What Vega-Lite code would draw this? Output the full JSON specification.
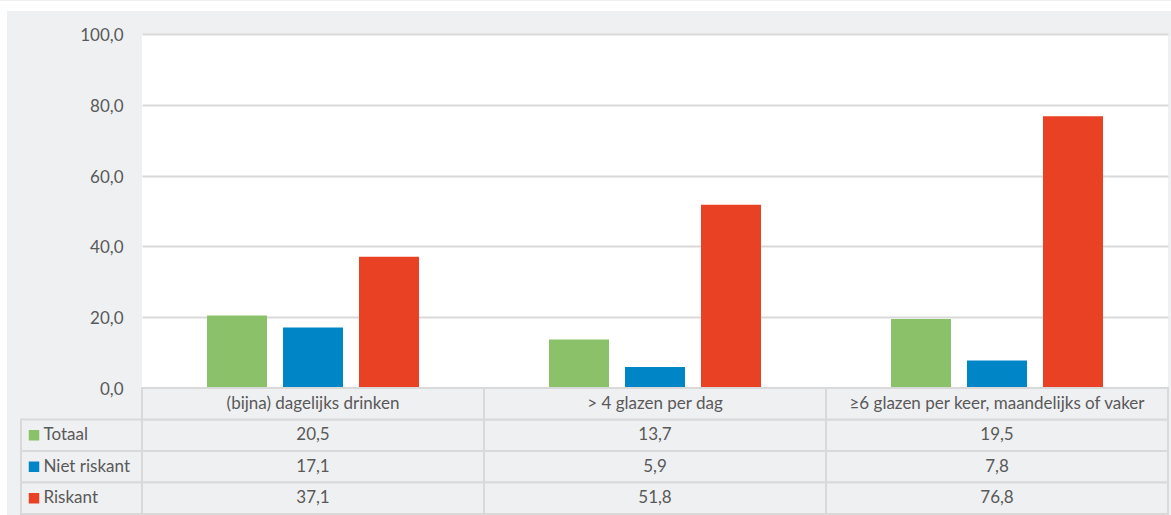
{
  "$schema": "https://vega.github.io/schema/vega-lite/v6.json",
  "background": "#eff0f2",
  "padding": 0,
  "autosize": {"type": "pad"},
  "datasets": {
    "cijfers": [
      {"categorie": "(bijna) dagelijks drinken", "groep": "Totaal", "waarde": 20.5},
      {"categorie": "(bijna) dagelijks drinken", "groep": "Niet riskant", "waarde": 17.1},
      {"categorie": "(bijna) dagelijks drinken", "groep": "Riskant", "waarde": 37.1},
      {"categorie": "> 4 glazen per dag", "groep": "Totaal", "waarde": 13.7},
      {"categorie": "> 4 glazen per dag", "groep": "Niet riskant", "waarde": 5.9},
      {"categorie": "> 4 glazen per dag", "groep": "Riskant", "waarde": 51.8},
      {"categorie": "≥6 glazen per keer, maandelijks of vaker", "groep": "Totaal", "waarde": 19.5},
      {"categorie": "≥6 glazen per keer, maandelijks of vaker", "groep": "Niet riskant", "waarde": 7.8},
      {"categorie": "≥6 glazen per keer, maandelijks of vaker", "groep": "Riskant", "waarde": 76.8}
    ]
  },
  "columns": 3,
  "spacing": 0,
  "bounds": "flush",
  "resolve": {"scale": {"x": "independent", "y": "independent", "color": "independent"}},
  "concat": [
    {"width": 7, "height": 10, "view": {"fill": "white", "stroke": null}, "data": {"values": [{}]}, "mark": {"type": "text", "text": ""}, "encoding": {}},
    {"width": 135, "height": 10, "view": {"fill": "white", "stroke": null}, "data": {"values": [{}]}, "mark": {"type": "text", "text": ""}, "encoding": {}},
    {"width": 1029, "height": 10, "view": {"fill": "white", "stroke": null}, "data": {"values": [{}]}, "mark": {"type": "text", "text": ""}, "encoding": {}},

    {"width": 7, "height": 23, "view": {"fill": "white", "stroke": null}, "data": {"values": [{}]}, "mark": {"type": "text", "text": ""}, "encoding": {}},
    {"width": 135, "height": 23, "data": {"values": [{}]}, "mark": {"type": "text", "text": ""}, "encoding": {}},
    {"width": 1026, "height": 23, "data": {"values": [{}]}, "mark": {"type": "text", "text": ""}, "encoding": {}},

    {"width": 7, "height": 354, "view": {"fill": "white", "stroke": null}, "data": {"values": [{}]}, "mark": {"type": "text", "text": ""}, "encoding": {}},
    {"width": 135, "height": 354, "data": {"values": [{}]}, "mark": {"type": "text", "text": ""}, "encoding": {}},
    {
      "width": 1026,
      "height": 354,
      "view": {"fill": "white", "stroke": null},
      "data": {"name": "cijfers"},
      "mark": {"type": "bar"},
      "encoding": {
        "x": {
          "field": "categorie",
          "type": "nominal",
          "sort": ["(bijna) dagelijks drinken", "> 4 glazen per dag", "≥6 glazen per keer, maandelijks of vaker"],
          "scale": {"paddingInner": 0, "paddingOuter": 0},
          "axis": null
        },
        "xOffset": {
          "field": "groep",
          "type": "nominal",
          "sort": ["Totaal", "Niet riskant", "Riskant"],
          "scale": {"paddingInner": 0.2105, "paddingOuter": 0.855}
        },
        "y": {
          "field": "waarde",
          "type": "quantitative",
          "scale": {"domain": [0, 100], "nice": false},
          "axis": {
            "title": null,
            "values": [0, 20, 40, 60, 80, 100],
            "format": ".1f",
            "domain": false,
            "ticks": false,
            "grid": true,
            "gridColor": "#d9d9d9",
            "gridWidth": 2,
            "labelPadding": 19,
            "labelOffset": 1.5,
            "labelFontSize": 17,
            "labelColor": "#595959",
            "labelFont": "Lato"
          }
        },
        "color": {
          "field": "groep",
          "type": "nominal",
          "scale": {"domain": ["Totaal", "Niet riskant", "Riskant"], "range": ["#8bc168", "#0085c7", "#e84123"]},
          "legend": null
        }
      }
    },

    {"width": 7, "height": 128, "view": {"fill": "white", "stroke": null}, "data": {"values": [{}]}, "mark": {"type": "text", "text": ""}, "encoding": {}},
    {
      "width": 135,
      "height": 126,
      "data": {"name": "cijfers"},
      "transform": [{"aggregate": [{"op": "count", "as": "n"}], "groupby": ["groep"]}],
      "encoding": {
        "y": {
          "field": "groep",
          "type": "nominal",
          "scale": {"domain": ["kop", "Totaal", "Niet riskant", "Riskant"], "paddingInner": 0, "paddingOuter": 0},
          "axis": null
        }
      },
      "layer": [
        {
          "mark": {"type": "rect", "width": 121, "align": "right", "fill": "#eff0f2", "stroke": "#d9d9d9", "strokeWidth": 2}
        },
        {
          "mark": {"type": "square", "size": 110, "xOffset": -40.5, "opacity": 1, "filled": true},
          "encoding": {
            "color": {
              "field": "groep",
              "type": "nominal",
              "scale": {"domain": ["Totaal", "Niet riskant", "Riskant"], "range": ["#8bc168", "#0085c7", "#e84123"]},
              "legend": null
            }
          }
        },
        {
          "mark": {"type": "text", "align": "left", "dx": -31, "fontSize": 17, "font": "Lato", "color": "#595959"},
          "encoding": {"text": {"field": "groep", "type": "nominal"}}
        }
      ]
    },
    {
      "width": 1026,
      "height": 126,
      "layer": [
        {
          "data": {"name": "cijfers"},
          "mark": {"type": "rect", "fill": "#eff0f2", "stroke": "#d9d9d9", "strokeWidth": 2},
          "encoding": {
            "x": {
              "field": "categorie",
              "type": "nominal",
              "sort": ["(bijna) dagelijks drinken", "> 4 glazen per dag", "≥6 glazen per keer, maandelijks of vaker"],
              "scale": {"paddingInner": 0, "paddingOuter": 0},
              "axis": null
            },
            "y": {
              "field": "groep",
              "type": "nominal",
              "scale": {"domain": ["kop", "Totaal", "Niet riskant", "Riskant"], "paddingInner": 0, "paddingOuter": 0},
              "axis": null
            }
          }
        },
        {
          "data": {"name": "cijfers"},
          "transform": [{"aggregate": [{"op": "count", "as": "n"}], "groupby": ["categorie"]}],
          "mark": {"type": "rect", "fill": "#eff0f2", "stroke": "#d9d9d9", "strokeWidth": 2},
          "encoding": {
            "x": {"field": "categorie", "type": "nominal", "sort": ["(bijna) dagelijks drinken", "> 4 glazen per dag", "≥6 glazen per keer, maandelijks of vaker"]},
            "y": {"datum": "kop", "type": "nominal"}
          }
        },
        {
          "data": {"name": "cijfers"},
          "mark": {"type": "text", "fontSize": 17, "font": "Lato", "color": "#595959"},
          "encoding": {
            "x": {"field": "categorie", "type": "nominal", "sort": ["(bijna) dagelijks drinken", "> 4 glazen per dag", "≥6 glazen per keer, maandelijks of vaker"]},
            "y": {"field": "groep", "type": "nominal"},
            "text": {"field": "waarde", "type": "quantitative", "format": ".1f"}
          }
        },
        {
          "data": {"name": "cijfers"},
          "transform": [{"aggregate": [{"op": "count", "as": "n"}], "groupby": ["categorie"]}],
          "mark": {"type": "text", "fontSize": 17, "font": "Lato", "color": "#595959"},
          "encoding": {
            "x": {"field": "categorie", "type": "nominal", "sort": ["(bijna) dagelijks drinken", "> 4 glazen per dag", "≥6 glazen per keer, maandelijks of vaker"]},
            "y": {"datum": "kop", "type": "nominal"},
            "text": {"field": "categorie", "type": "nominal"}
          }
        }
      ]
    }
  ],
  "config": {
    "view": {"stroke": null},
    "locale": {"number": {"decimal": ",", "thousands": ".", "grouping": [3], "currency": ["€ ", ""]}},
    "axis": {"labelFont": "Lato"},
    "text": {"font": "Lato"}
  }
}
